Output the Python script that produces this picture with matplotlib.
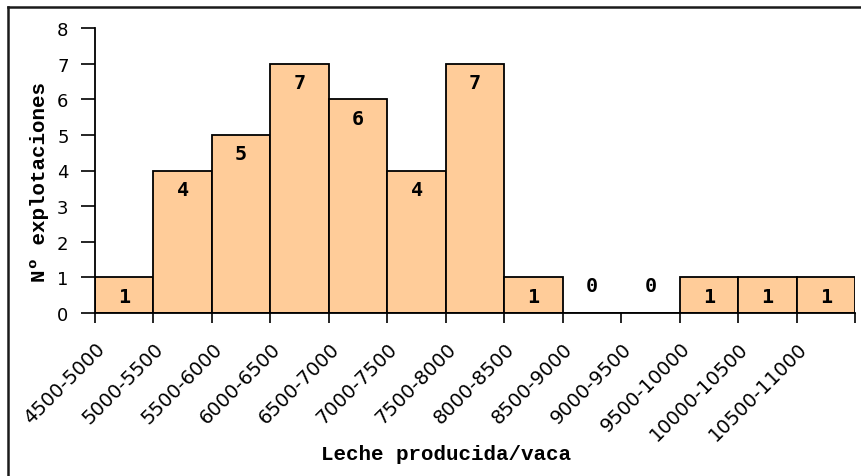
import matplotlib.pyplot as plt
from matplotlib.lines import Line2D
from matplotlib.transforms import offset_copy

# Número de explotaciones por intervalo de leche producida por vaca
intervalos = ['4500-5000', '5000-5500', '5500-6000', '6000-6500', '6500-7000',
              '7000-7500', '7500-8000', '8000-8500', '8500-9000', '9000-9500',
              '9500-10000', '10000-10500', '10500-11000']
explotaciones = [1, 4, 5, 7, 6, 4, 7, 1, 0, 0, 1, 1, 1]

fig = plt.figure(figsize=(8.62, 4.77), dpi=100)
ax = fig.add_axes([95 / 862, 1 - 314 / 477, 760 / 862, 285 / 477])

x = list(range(len(intervalos)))
ax.bar(x, explotaciones, width=1.0, color='#FFCC99', edgecolor='black',
       linewidth=1.3, zorder=2)

ax.set_xlim(-0.5, len(intervalos) - 0.5)
ax.set_ylim(0, 8)
ax.set_yticks(range(0, 9))

# marcas del eje x en los bordes de cada intervalo
ax.set_xticks([i - 0.5 for i in range(len(intervalos) + 1)], minor=True)
ax.set_xticks(x)
ax.tick_params(axis='x', which='major', length=0)
ax.tick_params(axis='x', which='minor', length=7, width=1.2, direction='out')
ax.tick_params(axis='y', length=10, width=1.2, direction='out', pad=9)

for s in ['top', 'right']:
    ax.spines[s].set_visible(False)
for s in ['left', 'bottom']:
    ax.spines[s].set_linewidth(1.3)

ax.set_yticklabels([str(v) for v in range(0, 9)], fontsize=13, family='DejaVu Sans')
ax.set_xticklabels([])
lab_tr = offset_copy(ax.get_xaxis_transform(), fig=fig, x=-22, y=-32, units='dots')
for i, txt in enumerate(intervalos):
    ax.text(i, 0, txt, transform=lab_tr, rotation=45, rotation_mode='anchor',
            ha='right', va='center', fontsize=14, family='DejaVu Sans')

# etiquetas de valor dentro de cada barra
for i, v in enumerate(explotaciones):
    dy = -19 if v > 0 else 27
    ax.annotate(str(v), (i, v), xytext=(0, dy * 0.72), textcoords='offset points',
                ha='center', va='center', fontsize=14.5, fontweight='bold',
                family='DejaVu Sans Mono', zorder=3)

fig.text(446 / 862, 1 - 455 / 477, 'Leche producida/vaca', ha='center', va='center',
         fontsize=15, fontweight='bold', family='Liberation Mono')
fig.text(40 / 862, 1 - 182 / 477, 'Nº explotaciones', ha='center', va='center',
         rotation=90, fontsize=15, fontweight='bold', family='Liberation Mono')

# marco del gráfico
fig.add_artist(Line2D([8 / 862, 8 / 862], [0, 1 - 8 / 477], color='#1a1a1a', lw=1.8))
fig.add_artist(Line2D([8 / 862, 1], [1 - 8 / 477, 1 - 8 / 477], color='#1a1a1a', lw=1.8))

fig.savefig('out.png', dpi=100)
